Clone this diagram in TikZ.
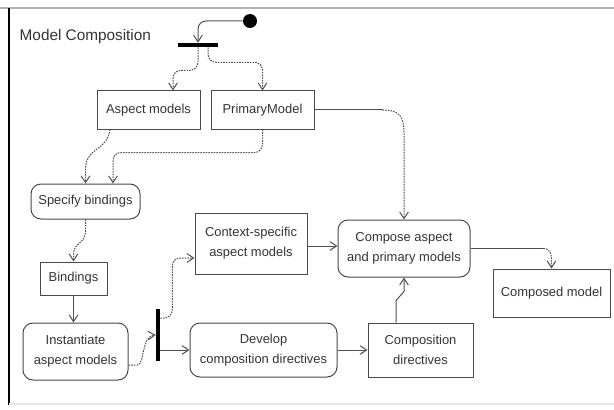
\documentclass[tikz,border=0pt]{standalone}
\usepackage{fontspec}
\setmainfont{Liberation Sans}
\usetikzlibrary{arrows.meta,calc}

\definecolor{boxline}{HTML}{4A4A4A}
\definecolor{linegray}{HTML}{505050}
\definecolor{textgray}{HTML}{333333}

\begin{document}
\begin{tikzpicture}[x=0.75pt,y=-0.75pt,
  box/.style={draw=boxline, line width=0.75pt, fill=white, inner sep=0pt,
    align=center, text=textgray, font=\fontsize{9.7}{15}\selectfont},
  act/.style={box, rounded corners=7.5pt},
  bar/.style={fill=black, inner sep=0pt},
  flow/.style={draw=linegray, line width=0.75pt,
    -{Straight Barb[length=5pt,width=6.5pt]}},
  plain/.style={draw=linegray, line width=0.75pt},
  dots/.style={dash pattern=on 1.2pt off 0.8pt},
]
\useasboundingbox (0,0) rectangle (614,410);

% frame of the activity
\draw[line width=1.5pt, gray!60] (0,8) -- (614,8);
\draw[line width=1.1pt, black] (9,8) -- (9,405);
\draw[line width=0.8pt, gray!20] (9,404) -- (614,404);
\node[anchor=west, text=textgray, font=\fontsize{11.5}{13}\selectfont]
  (title) at (15,37) {Model Composition};

% control nodes
\node[circle, fill=black, minimum size=10.5pt, inner sep=0pt] (start) at (250,21) {};
\node[bar, minimum width=30pt, minimum height=3pt] (fork) at (198,45) {};
\node[bar, minimum width=3pt, minimum height=39pt] (join) at (158,335) {};

% object and action nodes
\node[box, minimum width=77.25pt, minimum height=28.5pt] (asp) at (148.5,110) {Aspect models};
\node[box, minimum width=77.25pt, minimum height=28.5pt] (prim) at (262.5,110) {PrimaryModel};
\node[act, minimum width=81.75pt, minimum height=26.25pt] (spec) at (85.5,201.5) {Specify bindings};
\node[box, minimum width=50.25pt, minimum height=24.75pt] (bind) at (73.5,278.5) {Bindings};
\node[act, minimum width=78.75pt, minimum height=42.75pt] (inst) at (75.5,351.5) {Instantiate\\aspect models};
\node[box, minimum width=84pt, minimum height=45.75pt] (ctx) at (251,243.5) {Context-specific\\aspect models};
\node[act, minimum width=110.25pt, minimum height=40.5pt] (dev) at (263.5,350) {Develop\\composition directives};
\node[box, minimum width=78.75pt, minimum height=40.5pt] (cdir) at (420.5,350) {Composition\\directives};
\node[act, minimum width=99pt, minimum height=42.75pt] (comp) at (404,248.5) {Compose aspect\\and primary models};
\node[box, minimum width=87.75pt, minimum height=36pt] (cmodel) at (551.5,293) {Composed model};

% flows
\draw[flow, rounded corners=6pt] (start.west) -| (fork.north);
\draw[flow, dots, rounded corners=6pt] (fork.south) -- ++(0,23) -| ($(asp.north)+(24.5,0)$);
\draw[flow, dots, rounded corners=6pt] ($(fork.south)+(10,0)$) -- ++(0,15) -| (prim.north);

\draw[flow, dots] ($(asp.south)+(-38.5,0)$) .. controls (107,152) and (86,146) .. ($(spec.north)+(0,-14)$) -- (spec.north);
\draw[flow, dots, rounded corners=6pt] (prim.south) -- ++(0,23) -| ($(spec.north)+(27.5,0)$);

\draw[flow, dots, rounded corners=4pt] (spec.south) -- ++(0,18) -- ($(bind.north)+(0,-13)$) -- (bind.north);
\draw[flow] (bind.south) -- (bind.south |- inst.north);

\draw[flow, dots] ($(inst.east)+(0,13.5)$) -- ++(9,0) .. controls (145,364) and (141,336) .. (join.west);
\draw[flow, dots, rounded corners=6pt] ($(join.east)+(0,-17)$) -- ++(12,0) |- ($(ctx.west)+(0,14.5)$);
\draw[flow] (join.east |- dev.west) -- (dev.west);

\draw[flow] (dev.east) -- (cdir.west);
\draw[flow] ($(cdir.north)+(-24.5,0)$) -- ++(0,-22) -- ($(comp.south)+(0,14)$) -- (comp.south);
\draw[flow] ($(ctx.east)+(0,2.5)$) -- ($(comp.west)+(0,-2.5)$);

\coordinate (pbend) at ($(prim.east)+(68,0)$);
\draw[plain] (prim.east) -- (pbend);
\draw[flow, dots] (pbend) .. controls ($(pbend)+(16,0)$) and ($(comp.north)+(0,-104)$) .. ($(comp.north)+(0,-86)$) -- (comp.north);

\coordinate (cbend) at ($(comp.east)+(73,0)$);
\draw[plain] (comp.east) -- (cbend);
\draw[flow, dots] (cbend) .. controls ($(cbend)+(7,0)$) and ($(cmodel.north)+(0,-14)$) .. ($(cmodel.north)+(0,-8)$) -- (cmodel.north);
\end{tikzpicture}
\end{document}
